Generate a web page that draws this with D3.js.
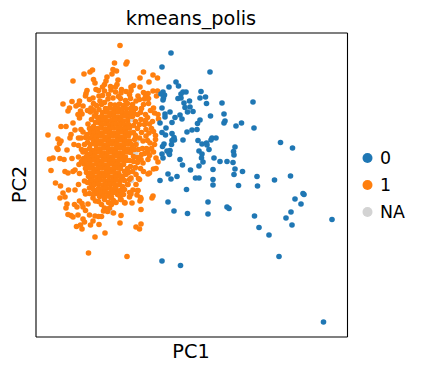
<!DOCTYPE html>
<html>
<head>
<meta charset="utf-8">
<script src="https://d3js.org/d3.v7.min.js"></script>
<style>
    html, body { margin: 0; padding: 0; background: #fff; }
    svg { display: block; }
    text { font-family: "DejaVu Sans", sans-serif; fill: #000; }
</style>
</head>
<body>
<div id="chart"></div>
<script>
// values, [PC1, PC2] in arbitrary units
var naPoints = [[96,217],[94,207],[101,194],[99,190],[100,184],[98,169],[99,167],[82,162],[84,161],[96,156],[77,124],[75,125]];

var cluster0 = [[135.5,283.5],[126.5,269.5],[174.5,264.5],[140.5,254.5],[133.5,249.5],[143,250.5],[127.5,244.5],[125.5,242.5],[129,241.5],
    [147.5,244.5],[150.5,244.5],[145.5,242.5],[165.5,245],[170,239.5],[164.5,238.5],[142.5,238],[145.5,238.5],[128,238.5],[127.5,236.5],
    [154,235.5],[148.5,233.5],[171,233],[186.5,233.5],[217.5,234.5],[149.5,229],[154.5,229.5],[126.5,228.5],[134.5,224.5],[129.5,222.5],
    [129.5,219.5],[152,224.5],[157.5,225],[144.5,221.5],[146.5,217.5],[139.5,219],[188.5,222.5],[175,220.5],[164.5,216.5],[162,213],
    [136.5,214],[124.5,213.5],[189.5,215.5],[188.5,213.5],[206,213.5],[200.5,210.5],[218.5,208.5],[130.5,208.5],[161.5,207],[156.5,206.5],
    [151.5,204.5],[126.5,204],[136.5,203],[130,201.5],[138.5,199],[139,196.5],[136.5,196],[136,192],[147.5,196.5],[162.5,196],[176.5,198.5],
    [180.5,198.5],[175.5,196.5],[166.5,192.5],[171,193.5],[171.5,191.5],[128.5,192.5],[127,190],[245,194],[257,188.5],[199.5,189.5],
    [173.5,187],[198,185],[198.5,181.5],[163.5,185.5],[166.5,182.5],[134.5,186],[131.5,185.5],[133.5,183.5],[134,182],[126.5,182.5],
    [127.5,178.5],[166,178.5],[178.5,178.5],[144.5,177],[167.5,174.5],[184.5,175],[191.5,175],[197.5,174],[147,171.5],[163.5,170.5],
    [155,166.5],[177.5,167],[199.5,167.5],[207,165],[198.5,162],[221.5,160],[255,160.5],[132.5,162.5],[141.5,160],[135.5,157.5],[124.5,156],
    [160,158.5],[163.5,158.5],[177.5,157],[239,156.5],[177.5,151.5],[203,151],[222,150.5],[151,147],
    [132.5,134.5],[172.5,134.5],[138.5,125.5],[152,123],[172.5,122.5],[191.5,129.5],[193.5,128],[219,120.5],[223.5,109],[233.5,101.5],
    [250.5,118.5],[255.5,124.5],[256.5,111.5],[259.5,137.5],[265.5,132.5],[267.5,143],[268.5,142],[296.5,117],[243.5,80],[126.5,75.5],
    [145,71],[288,14.5]];

var cluster1Outer = [[84.5,291],[79,273.5],[91.5,274.5],[90.5,272.5],[77.5,267],[81,265.5],[76.5,262.5],[48.5,262.5],[54.5,264.5],[57,266.5],
    [37.5,255.5],[108,264.5],[117.5,261.5],[122,258.5],[104.5,258.5],[113.5,254.5],[98,251],[95.5,249.5],[104.5,249.5],[71.5,259.5],
    [70.5,255.5],[69,252],[67,249.5],[58,257],[59.5,253.5],[82.5,256.5],[81.5,252],[80,249.5],[60.5,247],[51.5,246],[50.5,243],[50,240.5],
    [69,245.5],[75.5,246.5],[80,244.5],[85.5,243.5],[90.5,245],[95.5,246],[117.5,245.5],[122,245.5],[121,240.5],[112.5,243],[110,240.5],
    [109,237.5],[63.5,240.5],[57.5,238.5],[54,237],[64.5,235.5],[72.5,237.5],[77.5,238.5],[102.5,240.5],[94,242],[104,237],[100.5,235.5],
    [36.5,235],[27.5,232.5],[44,235.5],[43,232],[34,228.5],[32.5,225.5],[40.5,230.5],[47.5,230.5],[55.5,228.5],[55,224.5],[45,225.5],
    [42.5,222],[44,218.5],[46.5,222.5],[63.5,227],[60.5,223.5],[59,220.5],[118,228.5],[119,223.5],[122.5,222],[123,217.5],[52.5,212.5],
    [37.5,213.5],[39.5,206.5],[45.5,207],[47.5,204.5],[25.5,210],[30.5,210],[35.5,202],[34.5,198.5],[12.5,201.5],[22.5,197.5],[25.5,195.5],
    [24,193],[21.5,188.5],[43,198.5],[45.5,198.5],[38.5,192],[43,191],[49,192],[51.5,202],[54,198.5],[57.5,207],[64,213.5],[105.5,217],
    [109,212],[114,212.5],[110.5,207],[113.5,203.5],[120,201],[120,197],[110.5,200.5],[107.5,195.5],[114.5,193.5],[99,197],[104,198.5],
    [100.5,192],[119,192],
    [14,177.5],[17.5,178.5],[24.5,178],[28.5,177],[36.5,178],[43,179.5],[47.5,184.5],[31.5,186.5],[22.5,187],[43.5,172],[48.5,172.5],
    [15.5,166],[29.5,165],[32.5,163.5],[37.5,165],[44,163],[39.5,166.5],[49,155.5],[20,153.5],[25,150.5],[43,152],[33,146.5],[39.5,146.5],
    [27.5,143.5],[29.5,139.5],[24.5,138.5],[49,145.5],[50,142.5],[54,148.5],[57.5,138.5],[60,135.5],[44,135.5],[46.5,133],[39,132],
    [31.5,132.5],[30.5,128.5],[41.5,129.5],[47.5,129.5],[52.5,132.5],[50,126],[32.5,122],[35.5,121],[37.5,119.5],[42.5,121.5],[47.5,117.5],
    [54,121.5],[59.5,120.5],[63,120],[66,120],[57.5,115.5],[49,114.5],[55,111.5],[63.5,112],[41,110],[45,111.5],[46.5,107.5],[59.5,99.5],
    [69.5,103.5],[53,83.5],[91.5,80],[100.5,109.5],[104,107.5],[105.5,112.5],[84.5,113.5],[85.5,121],[69,128.5],[68,125.5],[74,128.5],
    [78,123.5],[105.5,127],[89.5,133.5],[96.5,133.5],[80.5,134],[85,137],[69,137],[75.5,138.5],[82.5,145.5],[94,139.5],[95.5,142.5],
    [101.5,141.5],[105.5,137.5],[104.5,135.5],[102.5,146],[97.5,146.5],[117.5,140.5],[116.5,138.5],[104,157],[100.5,152],[92.5,152],
    [112.5,162.5],[114,163.5],[118,167.5],[120.5,168],[100.5,162],[90.5,162],[95.5,158.5],[94,157],[122.5,174.5],[120.5,178.5],[112.5,177],
    [107.5,173.5],[105.5,177],[118,184.5],[112.5,184.5],[109,183],[114,181],[103,158],[102,146],[94,144],[92,152],[105,139],[89,134],[85.5,137]];

var cluster1Mid = [[58,233],[61,231],[66,232],[52,226],[58,226.5],[62,219],[56,217],[60,214],[54,208],[58,210],[50,199],[55,204],[59,204],
    [57,200],[52,194],[55,192],[58,196],[46,187],[50,186],[54,188],[57,186],[52,182],[55,183],[48,178],[51,180],[54,178],[46,175],[50,176],
    [97,232],[100,228],[95,228],[98,224],[102,222],[97,220],[106,228],[110,222],[105,224],[100,215],[104,212],[98,211],[102,208],[98,204],
    [106,204],[100,201],[116,208],[117,215],[112,219],[108,232],[113,233],[99,187],[103,187],[107,188],[111,188],[116,188],[106,182],
    [102,179],[98,180],[94,176],[98,175],[102,174],[95,170],[100,169],[105,168],[108,165],[92,168],[89,165],[93,164],[97,165],[87,160],
    [89,156],[85,156],[84,152],[87,150],[85,146],[89,147],[80,148],[82,142],[84,141],[88,142],[55,156],[52,154],[56,152],[58,147],[60,144],
    [54,143],[62,143],[58,142],[64,140],[63,135],[66,132],[73,134],[76,132],[78,136],[72,125],[85,238],[90,236],[95,238],[67,241],[73,242],
    [83,240],[86,247],[69,234],[92,233],[63,246],[75,250],[108,244],[113,238],[115,226],[110,216],[112,196],[118,205]];

var cluster1Core = [[75,232],[79.5,231.5],[84,232.5],[88,231],[70,228],[74,228.5],[78,227.5],[82.5,228],[86.5,227.5],[90.5,228],
    [67,224],[71.5,224.5],[75,223.5],[79,224],[83,224.5],[87,223.5],[91,224],[94,223.5],[66,220],[70,219.5],[74,220.5],[78.5,220],[82,219.5],
    [86,220],[90,220.5],[93,219.5],[64,216],[68,216.5],[72,215.5],[76,216],[80,216.5],[84.5,216],[88,215.5],[92,216],[66,212],[70,212.5],
    [73.5,211.5],[77.5,212],[81,212.5],[85,212],[89,211.5],[93,212],[62,208],[66,208.5],[69.5,207.5],[74,208],[78,208.5],[82,208],[86,207.5],
    [90,208],[94,208.5],[63,204],[67,203.5],[71,204.5],[75,204],[79,203.5],[83,204],[87,204.5],[91,204],[95,203.5],[61,200],[65,200.5],
    [69,199.5],[73,200],[77,200.5],[81,200],[85,199.5],[89,200],[93,200.5],[62,196],[66,195.5],[70,196.5],[74,196],[78,195.5],[82,196],
    [86,196.5],[90,196],[94,195.5],[60,192],[64,192.5],[68,191.5],[72,192],[76,192.5],[80,192],[84,191.5],[88,192],[92,192.5],[96,192],
    [61,188],[65,187.5],[69,188.5],[73,188],[77,187.5],[81,188],[85,188.5],[89,188],[93,187.5],[97,188],[60,184],[64,184.5],[68,183.5],
    [72,184],[76,184.5],[80,184],[84,183.5],[88,184],[92,184.5],[95,184],[58,180],[62,179.5],[66,180.5],[70,180],[74,179.5],[78,180],
    [82,180.5],[86,180],[90,179.5],[55,176],[59,176.5],[63,175.5],[67,176],[71,176.5],[75,176],[79,175.5],[83,176],[87,176.5],[91,176],
    [53,172],[57,171.5],[61,172.5],[65,172],[69,171.5],[73,172],[77,172.5],[81,172],[85,171.5],[88,172],[50,168],[54,168.5],[58,167.5],
    [62,168],[66,168.5],[70,168],[74,167.5],[78,168],[82,168.5],[85,168],[51,164],[55,163.5],[59,164.5],[63,164],[67,163.5],[71,164],
    [75,164.5],[79,164],[83,163.5],[53,160],[57,160.5],[61,159.5],[65,160],[69,160.5],[73,160],[77,159.5],[81,160],[85,160.5],[57,156],
    [61,155.5],[65,156.5],[69,156],[73,155.5],[77,156],[81,156.5],[59,152],[63,152.5],[67,151.5],[71,152],[75,152.5],[79,152],[82,151.5],
    [63,148],[67,147.5],[71,148.5],[75,148],[78,147.5],[66,144],[70,144.5],[74,143.5],[78,144],[68,140],[72,140.5],[76,139.5]];

var legendLabels = ["0", "1", "NA"];
var legendColors = ["#1f77b4", "#ff7f0e", "#d3d3d3"];

var width = 421, height = 371;
var margins = {top: 32.5, left: 35.5, right: 74, bottom: 34.5};

var svg = d3.select("#chart").append("svg")
    .attr("width", width)
    .attr("height", height);

var xScale = d3.scaleLinear().domain([0, 311.5]).range([margins.left, width - margins.right]);
var yScale = d3.scaleLinear().domain([0, 304]).range([height - margins.bottom, margins.top]);

// add points, NA underneath

function addPoints(points, color) {
    svg.append("g")
        .selectAll("circle")
        .data(points)
        .enter()
        .append("circle")
        .attr("cx", function (d) { return xScale(d[0]); })
        .attr("cy", function (d) { return yScale(d[1]); })
        .attr("r", 2.8)
        .attr("fill", color);
}

addPoints(naPoints, legendColors[2]);
addPoints(cluster1Outer.concat(cluster1Mid, cluster1Core), legendColors[1]);
addPoints(cluster0, legendColors[0]);

// frame, no ticks

svg.append("g")
    .attr("transform", "translate(0," + yScale(0) + ")")
    .call(d3.axisBottom(xScale).tickValues([]).tickSizeOuter(0));
svg.append("g")
    .attr("transform", "translate(0," + yScale(304) + ")")
    .call(d3.axisTop(xScale).tickValues([]).tickSizeOuter(0));
svg.append("g")
    .attr("transform", "translate(" + xScale(0) + ",0)")
    .call(d3.axisLeft(yScale).tickValues([]).tickSizeOuter(0));
svg.append("g")
    .attr("transform", "translate(" + xScale(311.5) + ",0)")
    .call(d3.axisRight(yScale).tickValues([]).tickSizeOuter(0));
svg.selectAll(".domain").attr("stroke", "#000").attr("stroke-width", 1.1);

// titles

svg.append("text")
    .attr("x", 191)
    .attr("y", 25)
    .attr("text-anchor", "middle")
    .style("font-size", "19.3px")
    .text("kmeans_polis");

svg.append("text")
    .attr("x", 191)
    .attr("y", 358)
    .attr("text-anchor", "middle")
    .style("font-size", "19.3px")
    .text("PC1");

svg.append("text")
    .attr("transform", "translate(26,184.5) rotate(-90)")
    .attr("text-anchor", "middle")
    .style("font-size", "19.3px")
    .text("PC2");

// legend

var legend = svg.append("g")
    .selectAll("g")
    .data(legendLabels)
    .enter()
    .append("g")
    .attr("transform", function (d, i) {
        return "translate(367.5," + (158 + i * 27) + ")";
    });

legend.append("circle")
    .attr("r", 5)
    .attr("fill", function (d, i) { return legendColors[i]; });

legend.append("text")
    .attr("x", 12.5)
    .attr("y", 6)
    .style("font-size", "17.4px")
    .text(function (d) { return d; });
</script>
</body>
</html>
